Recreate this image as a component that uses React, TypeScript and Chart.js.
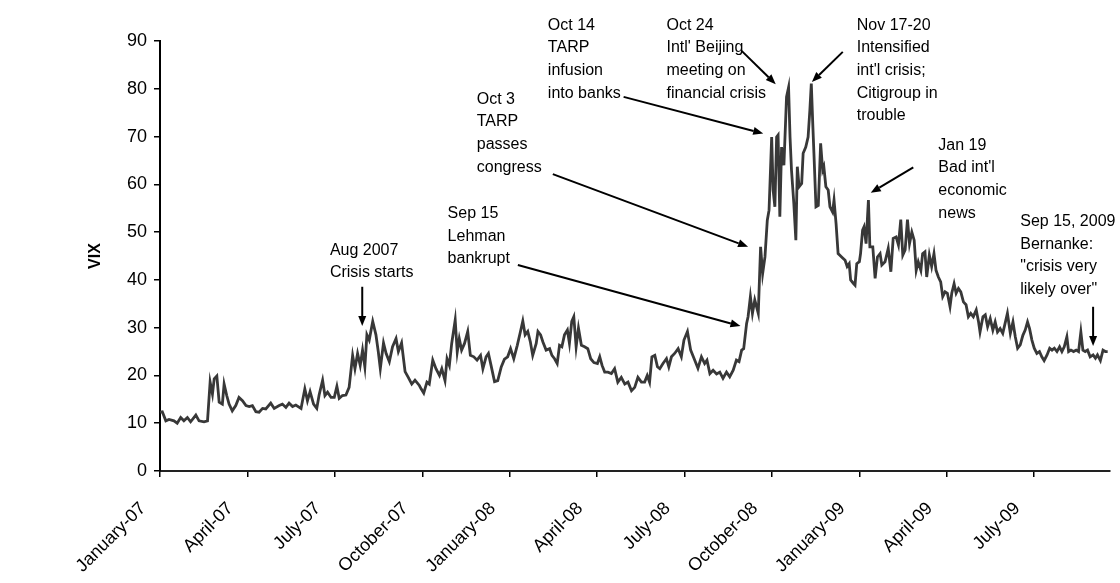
import React, { useEffect, useRef } from "react";
import { Chart, registerables } from "chart.js";

Chart.register(...registerables);

const FONT = '"Liberation Sans", Arial, Helvetica, sans-serif';

// x positions: months since 1 January 2007; quarterly tick labels
const quarterMonths = [0, 3, 6, 9, 12, 15, 18, 21, 24, 27, 30];
const quarterLabels = [
  "January-07", "April-07", "July-07", "October-07", "January-08", "April-08",
  "July-08", "October-08", "January-09", "April-09", "July-09",
];

const monthsSinceJan07 = [
  0.00, 0.08, 0.20, 0.31, 0.48, 0.59, 0.71, 0.82, 0.94, 1.05,
  1.23, 1.34, 1.51, 1.63, 1.72, 1.80, 1.86, 1.95, 2.03, 2.14,
  2.20, 2.29, 2.37, 2.48, 2.60, 2.71, 2.83, 2.95, 3.06, 3.17,
  3.29, 3.40, 3.52, 3.63, 3.80, 3.92, 4.09, 4.20, 4.32, 4.43,
  4.55, 4.66, 4.84, 4.97, 5.06, 5.15, 5.27, 5.38, 5.46, 5.58,
  5.66, 5.75, 5.87, 5.98, 6.07, 6.15, 6.26, 6.38, 6.49, 6.61,
  6.69, 6.78, 6.87, 6.95, 7.03, 7.10, 7.18, 7.30, 7.41, 7.49,
  7.56, 7.67, 7.76, 7.87, 7.98, 8.10, 8.18, 8.29, 8.41, 8.52,
  8.64, 8.75, 8.90,
  8.96, 9.05, 9.16, 9.24, 9.36, 9.47, 9.59, 9.67, 9.78, 9.85,
  9.93, 10.01, 10.13, 10.20, 10.27, 10.35, 10.45, 10.56, 10.65, 10.77,
  10.88, 11.00, 11.08, 11.19, 11.27, 11.36, 11.48, 11.59, 11.71, 11.82,
  11.93, 12.03, 12.14, 12.26, 12.37, 12.45, 12.53, 12.62, 12.71, 12.79,
  12.91, 12.97, 13.06, 13.14, 13.25, 13.37, 13.45, 13.54, 13.63, 13.71,
  13.79, 13.88, 13.98, 14.05, 14.13, 14.20, 14.28, 14.36, 14.46, 14.57,
  14.68, 14.78, 14.89, 15.01, 15.09, 15.17, 15.26, 15.37, 15.49, 15.60,
  15.71, 15.83, 15.95, 16.06, 16.18, 16.29, 16.40, 16.52, 16.63, 16.72,
  16.80, 16.88, 16.98, 17.07, 17.15, 17.26, 17.38, 17.46, 17.55, 17.66,
  17.78, 17.89, 17.98, 18.10, 18.21, 18.33,
  18.46, 18.58, 18.69, 18.77, 18.87, 18.98, 19.10, 19.21, 19.32, 19.44,
  19.55, 19.67, 19.78, 19.87, 19.96, 20.03, 20.13, 20.18, 20.26, 20.33,
  20.41, 20.53, 20.61, 20.68, 20.76, 20.84, 20.90, 20.99, 21.04, 21.10,
  21.16, 21.21, 21.27, 21.33, 21.41, 21.50, 21.57, 21.62, 21.67, 21.75,
  21.82, 21.87, 21.93, 22.02, 22.07, 22.16, 22.24, 22.30, 22.35, 22.40,
  22.44, 22.51, 22.59, 22.67, 22.74, 22.78, 22.85, 22.93, 22.99, 23.08,
  23.13, 23.20, 23.27, 23.39, 23.51, 23.58, 23.65, 23.70, 23.79, 23.85,
  23.91, 24.00, 24.04, 24.11, 24.16, 24.23, 24.31, 24.36, 24.46, 24.54,
  24.62, 24.71,
  24.77, 24.88, 24.99, 25.08, 25.16, 25.26, 25.34, 25.42, 25.49, 25.57,
  25.65, 25.72, 25.80, 25.88, 25.95, 26.02, 26.11, 26.17, 26.25, 26.31,
  26.40, 26.48, 26.56, 26.63, 26.71, 26.79, 26.86, 26.94, 27.02, 27.11,
  27.17, 27.25, 27.32, 27.40, 27.48, 27.57, 27.66, 27.74, 27.82, 27.91,
  28.01, 28.09, 28.14, 28.24, 28.32, 28.40, 28.49, 28.58, 28.66, 28.74,
  28.83, 28.92, 29.00, 29.08, 29.18, 29.27, 29.35, 29.43, 29.52, 29.61,
  29.69, 29.77, 29.84, 29.92, 30.00, 30.09, 30.18, 30.26, 30.34, 30.44,
  30.53, 30.61, 30.69, 30.78, 30.87, 30.95, 31.03, 31.12, 31.18, 31.26,
  31.35, 31.44, 31.52, 31.60, 31.67, 31.75, 31.83, 31.92, 32.02, 32.10,
  32.17, 32.27, 32.36, 32.44, 32.52,
];

const vixValues = [
  12.3, 12.4, 10.5, 10.8, 10.5, 10.0, 11.2, 10.5, 11.2, 10.3,
  11.7, 10.5, 10.3, 10.5, 18.6, 16.1, 19.3, 19.9, 14.4, 14.0,
  18.2, 15.8, 14.0, 12.6, 13.7, 15.4, 14.7, 13.7, 13.5, 13.7,
  12.4, 12.3, 13.1, 13.0, 14.2, 13.1, 13.7, 14.0, 13.3, 14.2,
  13.5, 13.8, 13.1, 17.2, 14.7, 16.6, 14.0, 13.1, 15.9, 19.0,
  15.8, 16.5, 15.4, 15.4, 17.7, 15.2, 15.8, 15.9, 17.5, 24.2,
  21.4, 24.6, 22.1, 25.3, 21.8, 28.5, 27.4, 31.3, 28.5, 25.0,
  21.4, 26.8, 24.6, 22.9, 26.0, 27.7, 25.0, 26.8, 20.8, 19.6,
  18.2, 19.0, 17.9,
  17.2, 16.3, 18.6, 18.2, 23.2, 21.4, 20.0, 21.4, 18.9, 23.5,
  22.1, 26.7, 31.6, 24.9, 27.7, 25.3, 26.7, 29.2, 24.2, 23.9,
  23.2, 24.2, 21.4, 23.9, 24.6, 22.1, 18.7, 18.9, 21.8, 23.4,
  23.9, 25.6, 23.5, 26.3, 29.2, 31.4, 28.5, 29.2, 27.0, 24.2,
  26.7, 29.2, 28.5, 27.0, 25.3, 25.6, 24.2, 23.5, 22.5, 26.3,
  26.0, 28.5, 29.5, 26.7, 31.3, 32.3, 26.0, 29.9, 26.3, 26.0,
  25.6, 23.5, 22.7, 22.5, 23.9, 22.1, 20.7, 20.7, 20.4, 21.4,
  18.6, 19.6, 18.2, 18.6, 16.8, 17.5, 19.6, 18.6, 18.6, 20.0,
  18.6, 23.9, 24.2, 21.8, 21.4, 22.5, 23.5, 21.8, 23.9, 24.6,
  25.6, 23.9, 27.4, 29.2, 25.3, 23.5,
  21.5, 23.9, 22.5, 23.2, 20.4, 21.1, 20.3, 20.7, 19.4, 20.7,
  19.7, 21.1, 23.2, 22.9, 25.3, 25.6, 30.9, 32.3, 36.5, 33.0,
  35.8, 33.0, 46.9, 41.3, 44.8, 52.5, 54.6, 69.9, 58.8, 55.3,
  69.9, 70.3, 53.2, 67.8, 64.0, 78.3, 80.3, 69.9, 63.0, 56.0,
  48.3, 63.7, 59.5, 60.2, 66.5, 67.8, 69.9, 75.5, 81.1, 72.7,
  66.5, 55.3, 55.6, 68.6, 63.0, 63.7, 59.5, 58.8, 55.3, 54.2,
  56.7, 51.8, 45.5, 44.8, 44.1, 42.8, 43.4, 40.0, 39.3, 38.9,
  43.4, 43.8, 45.5, 50.4, 51.1, 47.6, 56.7, 46.9, 46.9, 40.3,
  44.8, 45.5,
  43.1, 43.8, 46.6, 41.7, 48.7, 49.0, 47.3, 52.6, 45.2, 46.3,
  52.6, 47.6, 50.0, 48.3, 42.0, 43.8, 42.0, 45.5, 45.9, 40.6,
  45.2, 42.8, 45.5, 42.0, 40.6, 39.6, 36.5, 37.5, 37.2, 34.4,
  37.2, 39.2, 37.2, 38.2, 37.5, 35.4, 34.8, 32.3, 33.0, 32.3,
  33.7, 31.2, 29.1, 32.3, 32.7, 30.2, 31.9, 29.5, 31.2, 29.1,
  29.8, 28.8, 30.9, 33.0, 28.8, 31.2, 28.1, 25.7, 26.4, 28.4,
  29.5, 31.2, 29.8, 27.4, 25.7, 24.6, 25.0, 23.9, 23.1, 24.3,
  25.7, 25.3, 25.7, 25.0, 26.0, 25.0, 26.0, 28.1, 25.0, 25.3,
  25.0, 25.3, 25.0, 29.1, 25.3, 25.0, 25.3, 23.9, 24.3, 23.6,
  24.3, 23.1, 25.3, 25.0, 25.0,
];

// Annotation texts, anchored (left edge, first line) at [month, VIX]
const noteTexts = [
  ["Aug 2007", "Crisis starts"],
  ["Sep 15", "Lehman", "bankrupt"],
  ["Oct 3", "TARP", "passes", "congress"],
  ["Oct 14", "TARP", "infusion", "into banks"],
  ["Oct 24", "Intl' Beijing", "meeting on", "financial crisis"],
  ["Nov 17-20", "Intensified", "int'l crisis;", "Citigroup in", "trouble"],
  ["Jan 19", "Bad int'l", "economic", "news"],
  ["Sep 15, 2009", "Bernanke:", "\"crisis very", "likely over\""],
];
const noteAnchors = [
  [5.83, 46.2], [9.87, 53.9], [10.87, 77.8], [13.31, 93.3],
  [17.38, 93.3], [23.91, 93.3], [26.71, 68.2], [29.52, 52.2],
];
// Arrows: [month, VIX] tail -> head
const arrowTails = [
  [6.94, 38.56], [12.28, 43.1], [13.48, 62.13], [15.91, 78.3],
  [19.96, 87.93], [23.43, 87.72], [25.85, 63.54], [32.02, 34.37],
];
const arrowHeads = [
  [6.94, 30.33], [19.92, 30.33], [20.18, 46.92], [20.70, 70.65],
  [21.13, 80.96], [22.37, 81.44], [24.39, 58.22], [32.02, 26.15],
];

const LINE_HEIGHT = 22.7;

function drawArrow(ctx: CanvasRenderingContext2D, x1: number, y1: number, x2: number, y2: number) {
  const ang = Math.atan2(y2 - y1, x2 - x1);
  const head = 10;
  const half = 4;
  const bx = x2 - head * Math.cos(ang);
  const by = y2 - head * Math.sin(ang);
  ctx.beginPath();
  ctx.moveTo(x1, y1);
  ctx.lineTo(bx, by);
  ctx.stroke();
  ctx.beginPath();
  ctx.moveTo(x2, y2);
  ctx.lineTo(bx + half * Math.sin(ang), by - half * Math.cos(ang));
  ctx.lineTo(bx - half * Math.sin(ang), by + half * Math.cos(ang));
  ctx.closePath();
  ctx.fill();
}

const notesPlugin = {
  id: "vixNotes",
  afterDatasetsDraw(chart: any) {
    const { ctx } = chart;
    const xs = chart.scales.x;
    const ys = chart.scales.y;
    ctx.save();
    ctx.fillStyle = "#000";
    ctx.strokeStyle = "#000";
    ctx.lineWidth = 2;
    ctx.font = `16px ${FONT}`;
    ctx.textAlign = "left";
    ctx.textBaseline = "middle";
    noteTexts.forEach((lines, i) => {
      const px = xs.getPixelForValue(noteAnchors[i][0]);
      const py = ys.getPixelForValue(noteAnchors[i][1]);
      lines.forEach((line, j) => ctx.fillText(line, px, py + j * LINE_HEIGHT));
    });
    arrowTails.forEach((t, i) => {
      const h = arrowHeads[i];
      drawArrow(
        ctx,
        xs.getPixelForValue(t[0]), ys.getPixelForValue(t[1]),
        xs.getPixelForValue(h[0]), ys.getPixelForValue(h[1])
      );
    });
    ctx.restore();
  },
};

export default function App() {
  const ref = useRef<HTMLCanvasElement | null>(null);
  useEffect(() => {
    if (!ref.current) return;
    const chart = new Chart(ref.current, {
      type: "line",
      data: {
        datasets: [
          {
            label: "VIX",
            data: monthsSinceJan07.map((m, i) => ({ x: m, y: vixValues[i] })),
            borderColor: "#383838",
            borderWidth: 2.8,
            pointRadius: 0,
            tension: 0,
            fill: false,
          },
        ],
      },
      options: {
        animation: false,
        responsive: false,
        layout: { padding: { left: 82, right: 10, top: 41, bottom: 0 } },
        plugins: { legend: { display: false }, tooltip: { enabled: false } },
        scales: {
          x: {
            type: "linear",
            min: 0,
            max: 32.6,
            afterBuildTicks: (scale: any) => {
              scale.ticks = quarterMonths.map((v) => ({ value: v }));
            },
            afterFit: (scale: any) => {
              scale.height = 112;
            },
            grid: {
              display: true,
              drawOnChartArea: false,
              drawTicks: true,
              tickLength: 6,
              color: "#000",
              lineWidth: 1.5,
            },
            border: { display: true, color: "#222", width: 2 },
            ticks: {
              autoSkip: false,
              maxRotation: 45,
              minRotation: 45,
              padding: 21,
              labelOffset: -17,
              color: "#000",
              font: { family: FONT, size: 18 },
              callback: (_v: any, i: number) => quarterLabels[i],
            },
          },
          y: {
            min: 0,
            max: 90,
            afterFit: (scale: any) => {
              scale.width = 78;
            },
            grid: {
              display: true,
              drawOnChartArea: false,
              drawTicks: true,
              tickLength: 6,
              color: "#000",
              lineWidth: 1.5,
            },
            border: { display: true, color: "#000", width: 2 },
            ticks: {
              stepSize: 10,
              padding: 7,
              color: "#000",
              font: { family: FONT, size: 18 },
            },
            title: {
              display: true,
              text: "VIX",
              color: "#000",
              font: { family: FONT, size: 16, weight: "bold" },
              padding: { top: 4, bottom: 4 },
            },
          },
        },
      },
      plugins: [notesPlugin],
    });
    return () => chart.destroy();
  }, []);
  return (
    <div style={{ position: "absolute", left: 0, top: 0, width: 1120, height: 583, background: "#fff" }}>
      <canvas ref={ref} width={1120} height={583} />
    </div>
  );
}
